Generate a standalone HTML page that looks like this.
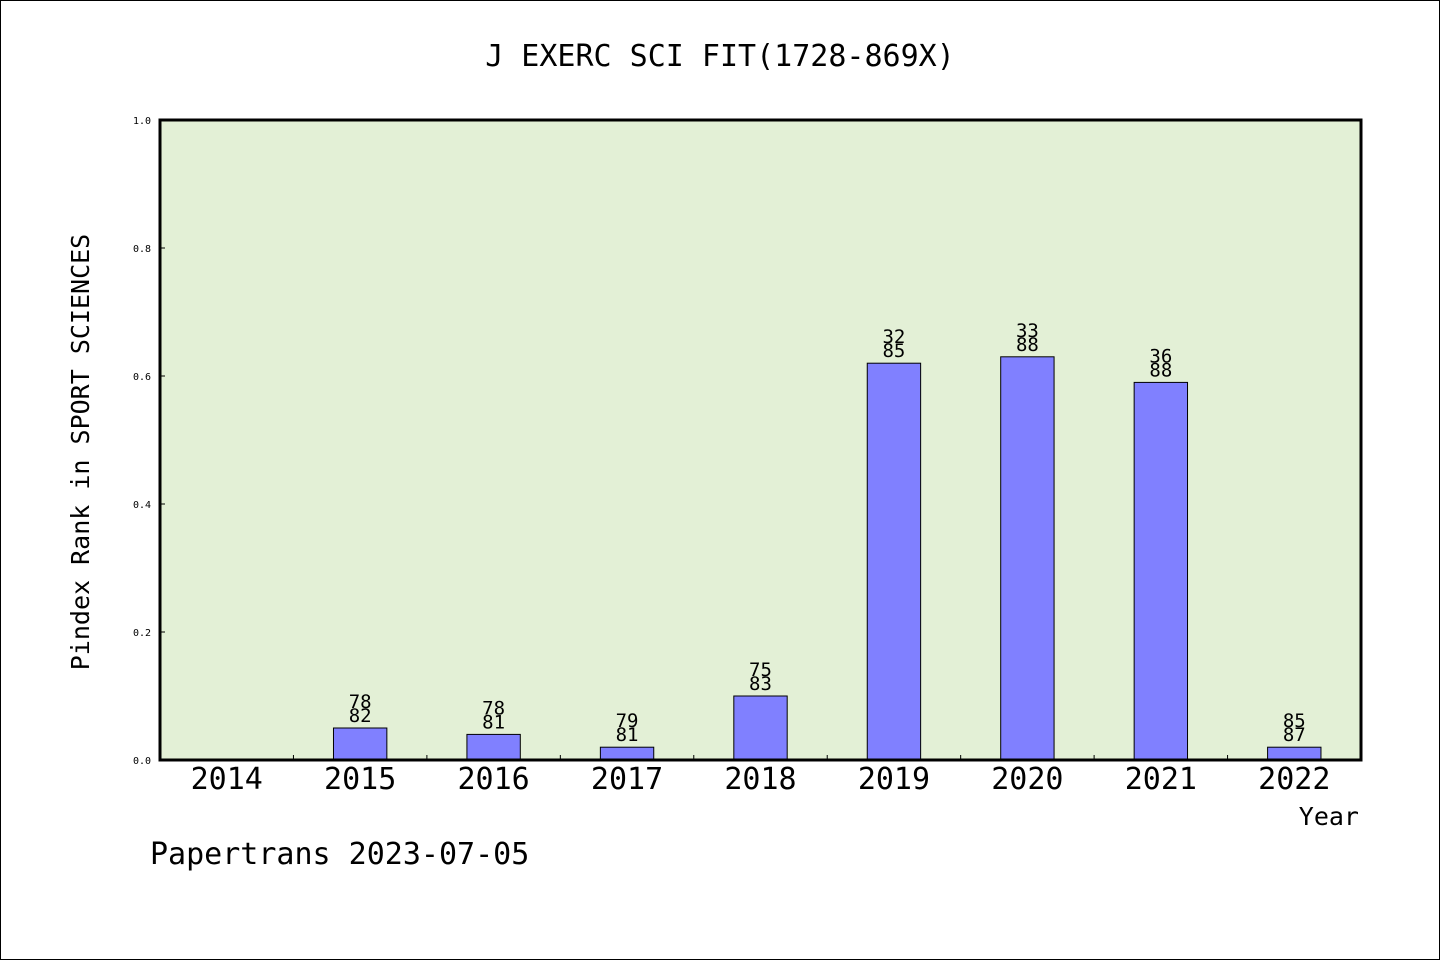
<!DOCTYPE html>
<html><head><meta charset="utf-8"><style>
html,body{margin:0;padding:0;background:#fff}
svg{display:block}
text{font-family:"WenQuanYi Zen Hei","DejaVu Sans Mono",monospace;fill:#000}
</style></head><body>
<svg id="chart" width="1440" height="960" viewBox="0 0 1440 960" xmlns="http://www.w3.org/2000/svg">
<rect x="0.5" y="0.5" width="1439" height="959" fill="#fff" stroke="#000" stroke-width="1"/>
<text x="720" y="66" font-size="30" text-anchor="middle">J EXERC SCI FIT(1728-869X)</text>
<rect x="160" y="120" width="1201" height="640" fill="#e3f0d6"/>
<g id="bars"></g>
<g id="axes"></g>
<rect x="160" y="120" width="1201" height="640" fill="none" stroke="#000" stroke-width="3"/>
<text transform="translate(89,452) rotate(-90)" font-size="25" text-anchor="middle">Pindex Rank in SPORT SCIENCES</text>
<text x="1359" y="825" font-size="25" text-anchor="end">Year</text>
<text x="150" y="864" font-size="30">Papertrans 2023-07-05</text>
</svg>
<script>
const categories = ["2014","2015","2016","2017","2018","2019","2020","2021","2022"];
const values = [0, 0.05, 0.04, 0.02, 0.10, 0.62, 0.63, 0.59, 0.02];
const ranks = ["", "78", "78", "79", "75", "32", "33", "36", "85"];
const totals = ["", "82", "81", "81", "83", "85", "88", "88", "87"];
const yTicks = [0, 0.2, 0.4, 0.6, 0.8, 1.0];
const yTickLabels = ["0.0","0.2","0.4","0.6","0.8","1.0"];

const NS = "http://www.w3.org/2000/svg";
const X0 = 160, X1 = 1361, Y0 = 760, Y1 = 120;
const band = (X1 - X0) / categories.length;
const xc = i => X0 + band * (i + 0.5);
const y = v => Y0 - (v / 1.0) * (Y0 - Y1);
function mk(tag, attrs, parent, txt) {
  const e = document.createElementNS(NS, tag);
  for (const k in attrs) e.setAttribute(k, attrs[k]);
  if (txt !== undefined) e.textContent = txt;
  parent.appendChild(e);
  return e;
}
const bars = document.getElementById("bars");
const axes = document.getElementById("axes");
categories.forEach((c, i) => {
  const w = band * 0.4;
  if (values[i] > 0) {
    const r = mk("rect", {x: xc(i) - w / 2, y: y(values[i]), width: w, height: Y0 - y(values[i]), fill: "#8080ff", stroke: "#000", "stroke-width": 1}, bars);
    
    
    const t1 = mk("text", {x: xc(i), y: y(values[i]) - 20, "font-size": 19, "text-anchor": "middle"}, bars, ranks[i]);
    
    
    const t2 = mk("text", {x: xc(i), y: y(values[i]) - 6, "font-size": 19, "text-anchor": "middle"}, bars, totals[i]);
    
    
  }
  const xl = mk("text", {x: xc(i), y: 789, "font-size": 30, "text-anchor": "middle"}, axes, c);
  
  
  if (i > 0) {
    const tk = mk("line", {x1: X0 + band * i, x2: X0 + band * i, y1: Y0, y2: Y0 - 5, stroke: "#000", "stroke-width": 1}, axes);
    
    
  }
});
yTicks.forEach((v, i) => {
  const tk = mk("line", {x1: X0, x2: X0 + 5, y1: y(v), y2: y(v), stroke: "#000", "stroke-width": 1}, axes);
  
  
  const tl = mk("text", {x: 151, y: y(v) + 4, "font-size": 10, "text-anchor": "end"}, axes, yTickLabels[i]);
  
  
});
</script>
</body></html>
